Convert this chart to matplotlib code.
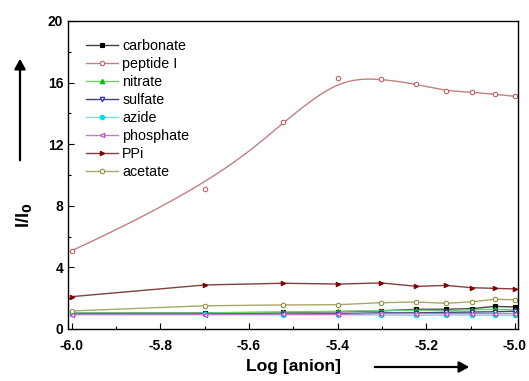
import numpy as np
import matplotlib
matplotlib.use("Agg")
import matplotlib.pyplot as plt

log_conc = [-6.0, -5.699, -5.523, -5.398, -5.301, -5.222, -5.155, -5.097, -5.046, -5.0]

carbonate = [1.02, 1.05, 1.08, 1.12, 1.18, 1.28, 1.28, 1.32, 1.47, 1.43]
peptide_I = [5.08, 9.07, 13.42, 16.28, 16.25, 15.9, 15.45, 15.39, 15.24, 15.11]
nitrate = [1.05, 1.05, 1.10, 1.15, 1.20, 1.22, 1.20, 1.25, 1.28, 1.25]
sulfate = [1.00, 1.00, 0.98, 1.00, 1.05, 1.05, 1.08, 1.10, 1.12, 1.15]
azide = [0.95, 0.95, 0.92, 0.92, 0.90, 0.88, 0.90, 0.90, 0.88, 0.88]
phosphate = [0.93, 0.93, 0.95, 0.95, 1.00, 1.00, 1.00, 1.00, 1.00, 1.00]
PPi = [2.10, 2.86, 2.97, 2.92, 2.99, 2.77, 2.83, 2.68, 2.64, 2.60]
acetate = [1.17, 1.51, 1.56, 1.58, 1.71, 1.75, 1.67, 1.77, 1.93, 1.90]

plt.rcParams['font.family'] = ['Liberation Sans', 'DejaVu Sans']


def bspline(xs, ys, n=400, k=3):
    P = np.column_stack([xs, ys])
    m = len(P)
    inner = np.linspace(0, 1, m - k + 1)
    t = np.concatenate([[0] * k, inner, [1] * k])
    u = np.linspace(0, 1, n)
    u[-1] = 1 - 1e-12

    def basis(i, kk, uu):
        if kk == 0:
            return ((t[i] <= uu) & (uu < t[i + 1])).astype(float)
        d1 = t[i + kk] - t[i]
        d2 = t[i + kk + 1] - t[i + 1]
        a = 0 if d1 == 0 else (uu - t[i]) / d1 * basis(i, kk - 1, uu)
        b = 0 if d2 == 0 else (t[i + kk + 1] - uu) / d2 * basis(i + 1, kk - 1, uu)
        return a + b

    B = np.array([basis(i, k, u) for i in range(m)])
    C = B.T @ P
    return C[:, 0], C[:, 1]


fig = plt.figure(figsize=(5.29, 3.81), dpi=100)
ax = fig.add_axes([68 / 529, 1 - 329 / 381, 450 / 529, 308 / 381])

MS = 3.2
series = [
    ("carbonate", carbonate, "#404040", "s", "black", "black"),
    ("nitrate", nitrate, "#70d070", "^", "#00c000", "#00c000"),
    ("sulfate", sulfate, "#404080", "v", "white", "#2020a0"),
    ("azide", azide, "#80e0e0", "o", "#00e0e0", "#00e0e0"),
    ("phosphate", phosphate, "#c080c0", "<", "white", "#c040c0"),
    ("PPi", PPi, "#804040", ">", "#800000", "#800000"),
    ("acetate", acetate, "#a8a868", "o", "white", "#909040"),
]

handles = {}
for name, vals, lc, mk, mfc, mec in series:
    h, = ax.plot(log_conc, vals, color=lc, lw=1.0, marker=mk, ms=MS,
                 mfc=mfc, mec=mec, mew=0.8, label=name)
    handles[name] = h

bx, by = bspline(log_conc, peptide_I)
ax.plot(bx, by, color="#c08080", lw=1.0)
ax.plot(log_conc, peptide_I, ls="none", marker="o", ms=MS, mfc="white",
        mec="#c06060", mew=0.8)
hp, = ax.plot([], [], color="#c08080", lw=1.0, marker="o", ms=MS,
              mfc="white", mec="#c06060", mew=0.8, label="peptide I")
handles["peptide I"] = hp

order = ["carbonate", "peptide I", "nitrate", "sulfate", "azide",
         "phosphate", "PPi", "acetate"]
leg = ax.legend([handles[o] for o in order], order, loc="upper left",
                frameon=False, fontsize=10.3, handlelength=2.2, handletextpad=0.3,
                labelspacing=0.28, borderaxespad=0.0,
                bbox_to_anchor=(0.028, 0.96))

ax.set_xlim(-6.008, -4.993)
ax.set_ylim(0, 20)
ax.set_xticks([-6.0, -5.8, -5.6, -5.4, -5.2, -5.0])
ax.set_xticklabels(["-6.0", "-5.8", "-5.6", "-5.4", "-5.2", "-5.0"])
ax.set_xticks(np.arange(-5.9, -5.0, 0.2), minor=True)
ax.set_yticks([0, 4, 8, 12, 16, 20])
ax.set_yticks([2, 6, 10, 14, 18], minor=True)
ax.tick_params(which="both", direction="in", top=False, right=False)
ax.tick_params(which="major", length=4, labelsize=10, width=0.8)
ax.tick_params(which="minor", length=2.5, width=0.8)
ax.tick_params(axis="x", which="major", pad=7)
for lab in ax.get_xticklabels() + ax.get_yticklabels():
    lab.set_fontweight("bold")
for s in ax.spines.values():
    s.set_linewidth(1.0)

fig.text(24 / 529, 1 - 215 / 381, r"I/I$_\mathbf{0}$", rotation=90,
         fontsize=13, fontweight="bold", ha="center", va="center")
fig.text(293 / 529, 1 - 367 / 381, "Log [anion]", fontsize=12.6,
         fontweight="bold", ha="center", va="center")

fig.patches.append(matplotlib.patches.FancyArrowPatch(
    (20 / 529, 1 - 163 / 381), (20 / 529, 1 - 56 / 381),
    transform=fig.transFigure, arrowstyle="-|>,head_length=4,head_width=2.2",
    color="black", lw=1.6, mutation_scale=1.5))
fig.patches.append(matplotlib.patches.FancyArrowPatch(
    (372 / 529, 1 - 367 / 381), (472 / 529, 1 - 367 / 381),
    transform=fig.transFigure, arrowstyle="-|>,head_length=4,head_width=2.2",
    color="black", lw=1.6, mutation_scale=1.5))

fig.savefig("out.png", dpi=100)
